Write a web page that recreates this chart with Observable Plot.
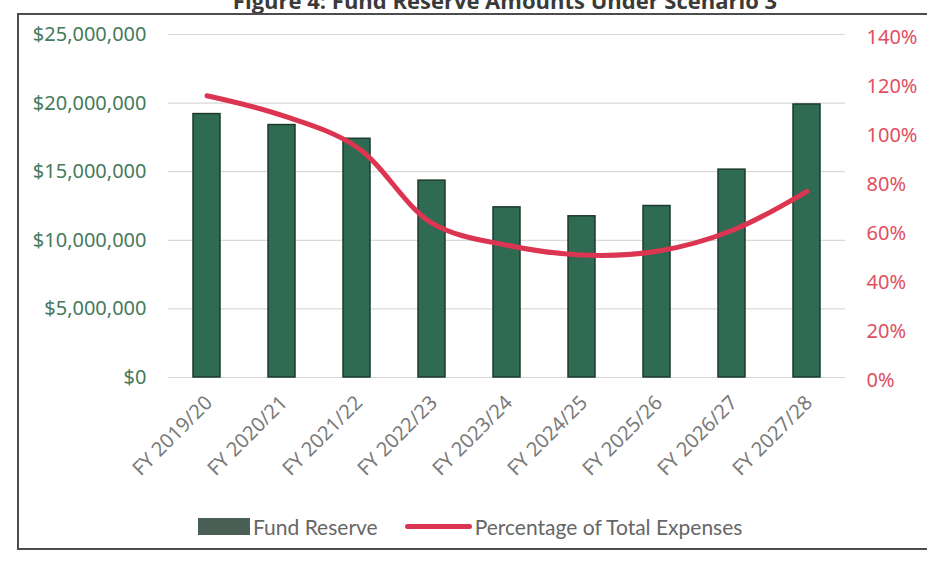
<!DOCTYPE html>
<html>
<head>
<meta charset="utf-8">
<script src="https://cdn.jsdelivr.net/npm/d3@7"></script>
<script src="https://cdn.jsdelivr.net/npm/@observablehq/plot@0.6"></script>
<style>
  html, body { margin: 0; padding: 0; background: #fff; overflow: hidden; }
  #wrap { position: relative; width: 927px; height: 565px; font-family: Lato, "Open Sans", sans-serif; }
  #title { position: absolute; top: -15px; left: 0; width: 1010px; text-align: center; font: bold 22px "Open Sans", sans-serif; color: #3a3a3a; white-space: nowrap; }
  #frame { position: absolute; left: 17px; top: 13px; width: 960px; height: 533px; border: 2px solid #4d4d4d; border-right: none; }
  #chart { position: absolute; left: 0; top: 0; }
  #legend { position: absolute; top: 514px; left: 198px; font: 21px Lato, sans-serif; color: #666; display: flex; align-items: center; white-space: nowrap; }
  .sw { display: inline-block; width: 52px; height: 17px; background: #4a5f55; margin-right: 3px; }
  .ln { display: inline-block; width: 67px; height: 5px; background: #dc3552; border-radius: 3px; margin-left: 27px; margin-right: 3px; }
</style>
</head>
<body>
<div id="wrap">
  <div id="title">Figure 4: Fund Reserve Amounts Under Scenario 3</div>
  <div id="frame"></div>
  <div id="chart"></div>
  <div id="legend"><span class="sw"></span><span>Fund Reserve</span><span class="ln"></span><span>Percentage of Total Expenses</span></div>
</div>
<script>
const years = ["FY 2019/20", "FY 2020/21", "FY 2021/22", "FY 2022/23", "FY 2023/24", "FY 2024/25", "FY 2025/26", "FY 2026/27", "FY 2027/28"];
const fundReserve = [19200000, 18400000, 17400000, 14350000, 12400000, 11750000, 12500000, 15150000, 19900000];
const pctOfExpenses = [115, 107, 94, 63, 54, 50, 51.5, 60, 76];
const leftTicks = [0, 5000000, 10000000, 15000000, 20000000, 25000000];
const rightTicks = [0, 20, 40, 60, 80, 100, 120, 140];
const leftMax = 25000000;
const rightMax = 140;

const toLeft = p => p / rightMax * leftMax;
const rows = years.map((y, i) => ({year: y, reserve: fundReserve[i], pct: pctOfExpenses[i], pctScaled: toLeft(pctOfExpenses[i])}));

const chart = Plot.plot({
  width: 927,
  height: 565,
  marginTop: 34,
  marginBottom: 188,
  marginLeft: 168,
  marginRight: 82,
  style: {background: "transparent", overflow: "visible"},
  x: {domain: years, paddingInner: 0.64, paddingOuter: 0.32, label: null},
  y: {domain: [0, leftMax], label: null},
  marks: [
    Plot.gridY(leftTicks, {stroke: "#d9d9d9", strokeOpacity: 1, strokeWidth: 1.2}),
    Plot.barY(rows, {x: "year", y: "reserve", fill: "#2f6b52", stroke: "#1d3b2d", strokeWidth: 1.5}),
    Plot.line(rows, {x: "year", y: "pctScaled", stroke: "#dc3552", strokeWidth: 5, curve: "catmull-rom", strokeLinecap: "round"}),
    Plot.axisY(leftTicks, {anchor: "left", tickSize: 0, tickPadding: 22, fontSize: 20, fill: "#467a5c", tickFormat: d => "$" + d3.format(",")(d), label: null}),
    Plot.axisY(rightTicks.map(toLeft), {anchor: "right", tickSize: 0, tickPadding: 21, fontSize: 20, fill: "#e0505f", dy: 3, tickFormat: v => Math.round(v / leftMax * rightMax) + "%", label: null}),
    Plot.axisX({tickSize: 0, tickRotate: -45, tickPadding: 22, fontSize: 20, fill: "#7a7a7a", dx: 2, label: null})
  ]
});
document.getElementById("chart").appendChild(chart);
</script>
</body>
</html>
